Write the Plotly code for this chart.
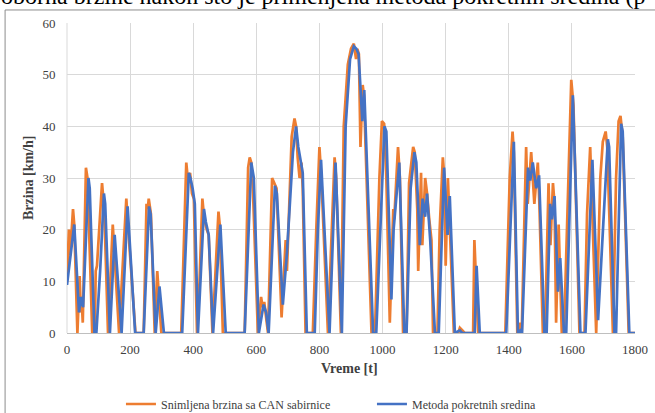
import plotly.graph_objects as go

# Snimljena brzina sa CAN sabirnice (orange) - time [s], speed [km/h]
can_t = [0, 6, 10, 19, 23, 33, 40, 44, 46, 50, 60, 65, 80, 88, 91, 95, 111, 114, 118, 130,
         145, 165, 188, 192, 217, 243, 252, 256, 259, 266, 278, 286, 290, 299, 362, 372,
         378, 384, 390, 396, 402, 412, 420, 429, 435, 443, 449, 461, 470, 480, 484, 494,
         563, 574, 579, 584, 589, 605, 615, 620, 625, 637, 650, 658, 664, 680, 693, 697,
         712, 721, 726, 731, 737, 743, 747, 756, 779, 790, 800, 806, 827, 836, 848, 853,
         868, 877, 890, 900, 909, 916, 920, 925, 930, 937, 941, 965, 976, 990, 998, 1005,
         1012, 1023, 1034, 1037, 1049, 1055, 1065, 1076, 1084, 1097, 1102, 1110, 1113,
         1122, 1126, 1135, 1141, 1148, 1155, 1160, 1174, 1181, 1191, 1196, 1200, 1207,
         1213, 1226, 1240, 1245, 1253, 1260, 1287, 1291, 1303, 1389, 1403, 1412, 1416,
         1427, 1433, 1437, 1441, 1449, 1455, 1460, 1471, 1481, 1492, 1497, 1508, 1515,
         1526, 1532, 1540, 1545, 1550, 1558, 1564, 1568, 1575, 1590, 1598, 1605, 1624,
         1640, 1648, 1658, 1663, 1677, 1690, 1698, 1707, 1712, 1730, 1740, 1748, 1754,
         1761, 1780, 1800]
can_v = [10, 20, 15, 24, 21, 0, 11, 4, 7, 2, 32, 30, 0, 0, 12, 13, 29, 27, 24, 0,
         21, 0, 26, 22, 0, 0, 25, 24, 26, 23, 0, 12, 8, 0, 0, 21,
         33, 29, 31, 27, 26, 0, 10, 26, 22, 20, 19, 0, 12, 23.5, 21, 0,
         0, 32, 34, 33, 28, 0, 7, 5, 6, 0, 30, 29, 28, 3, 18, 12,
         38, 41.5, 40, 34, 30, 33, 28, 0, 0, 20, 36, 30, 0, 15, 34, 30,
         0, 40, 52, 55, 56, 53, 55, 54, 36, 48, 46, 0, 0, 30, 41, 40.5,
         30, 2, 24, 22, 36, 30, 0, 0, 29, 36, 35, 24, 12,
         31, 17, 30, 27, 22, 18, 0, 0, 20, 34, 30, 13, 30,
         20, 0, 0, 1, 0.5, 0, 0, 18, 0, 0, 30, 39, 35,
         0, 0, 2, 0, 20, 36, 25, 35, 25, 33, 25, 0, 0,
         29, 17, 29, 25, 2, 21, 10, 0, 0, 30, 49, 44, 0,
         0, 23, 36, 26, 0, 30, 37, 39, 36, 0, 30, 41, 42,
         38, 0, 0]

# Metoda pokretnih sredina (blue)
ma_t = [0, 14, 23, 38, 44, 51, 68, 72, 87, 93, 105, 117, 121, 136, 151, 173, 192, 216,
        243, 260, 265, 281, 293, 307, 365, 386, 391, 398, 405, 415, 434, 440, 449, 463,
        486, 503, 563, 584, 592, 608, 623, 631, 639, 659, 665, 684, 697, 716, 726, 733,
        747, 760, 785, 795, 805, 832, 851, 871, 883, 897, 909, 917, 924, 936, 942, 970,
        980, 1006, 1012, 1028, 1035, 1053, 1069, 1076, 1089, 1101, 1107, 1118, 1127,
        1135, 1141, 1151, 1166, 1178, 1195, 1206, 1213, 1229, 1245, 1252, 1292, 1298,
        1308, 1392, 1416, 1429, 1437, 1442, 1461, 1468, 1476, 1487, 1496, 1513, 1520,
        1531, 1537, 1545, 1556, 1563, 1575, 1582, 1603, 1627, 1643, 1665, 1683, 1714,
        1718, 1735, 1740, 1756, 1761, 1782, 1800]
ma_v = [9.3, 16, 21, 4, 7, 5, 30, 28, 0, 0, 12, 27, 25, 0, 19, 0, 24.5, 0,
        0, 24.5, 23, 0, 9, 0, 0, 31, 30, 28, 25, 0, 24, 21.5, 19, 0,
        21, 0, 0, 33, 30, 0, 5.5, 4, 0, 28.5, 27, 5.5, 15.5, 35, 40, 36,
        31, 0, 0, 20, 33.5, 0, 33, 0, 40, 53, 55.5, 55, 54, 41, 47, 0,
        0, 40, 39, 6.5, 20, 33, 0, 0, 28, 35, 33, 17, 26,
        22.5, 27, 18, 0, 0, 32, 19, 26.5, 0, 0.5, 0, 0, 13,
        0, 0, 37, 0, 0.5, 0, 32, 29.5, 33, 28, 30.5, 0, 0,
        25, 22, 26.5, 8, 14.5, 0, 0, 46, 0, 0, 33.5, 2.5, 37.5,
        36, 0, 0, 40.5, 39, 0, 0]

x_ticks = [0, 200, 400, 600, 800, 1000, 1200, 1400, 1600, 1800]
y_ticks = [0, 10, 20, 30, 40, 50, 60]

FONT = "Liberation Serif"
TXT = "#404040"

fig = go.Figure()
fig.add_trace(go.Scatter(x=can_t, y=can_v, mode="lines", name="Snimljena brzina sa CAN sabirnice",
                         line=dict(color="#ED7D31", width=2.7)))
fig.add_trace(go.Scatter(x=ma_t, y=ma_v, mode="lines", name="Metoda pokretnih sredina",
                         line=dict(color="#4472C4", width=2.7)))

fig.update_layout(
    width=655, height=413,
    margin=dict(l=67, r=20, t=23, b=80, autoexpand=False),
    paper_bgcolor="white", plot_bgcolor="white",
    font=dict(family=FONT, size=13, color=TXT),
    showlegend=True,
    legend=dict(orientation="h", x=0.095, xanchor="left", y=-0.229, yanchor="middle",
                entrywidth=206, entrywidthmode="pixels",
                font=dict(family=FONT, size=12, color=TXT), tracegroupgap=0),
    xaxis=dict(range=[0, 1800], tickvals=x_ticks, showgrid=True, gridcolor="#d9d9d9",
               gridwidth=1, zeroline=False, showline=True, linecolor="#bfbfbf",
               ticks="outside", ticklen=4, tickcolor="rgba(0,0,0,0)",
               tickfont=dict(size=13, color=TXT), automargin=False),
    yaxis=dict(range=[0, 60], tickvals=y_ticks, showgrid=True, gridcolor="#d9d9d9",
               gridwidth=1, zeroline=False, showline=False,
               ticks="outside", ticklen=8, tickcolor="rgba(0,0,0,0)",
               tickfont=dict(size=13, color=TXT), automargin=False),
    shapes=[
        dict(type="rect", xref="paper", yref="paper", x0=-0.109, x1=1.2, y0=-0.5, y1=1.042,
             line=dict(color="#8c8c8c", width=1), fillcolor="rgba(0,0,0,0)", layer="below"),
        dict(type="line", xref="paper", yref="paper", x0=0, x1=0, y0=0, y1=1,
             line=dict(color="#d9d9d9", width=1), layer="below"),
    ],
    annotations=[
        dict(text="oborna brzine nakon što je primenjena metoda pokretnih sredina (p",
             xref="paper", yref="paper", x=-0.12, y=1.0385, xanchor="left", yanchor="bottom",
             showarrow=False, font=dict(family=FONT, size=24, color="#000000")),
        dict(text="<b>Vreme [t]</b>", xref="paper", yref="paper", x=0.498, y=-0.113,
             xanchor="center", yanchor="middle", showarrow=False,
             font=dict(family=FONT, size=14, color=TXT)),
        dict(text="<b>Brzina [km/h]</b>", xref="paper", yref="paper", x=-0.0687, y=0.5,
             xanchor="center", yanchor="middle", textangle=-90, showarrow=False,
             font=dict(family=FONT, size=14, color=TXT)),
    ],
)

fig.write_html("out.html", post_script="document.body.style.margin='0';",
               config={"displayModeBar": False})
